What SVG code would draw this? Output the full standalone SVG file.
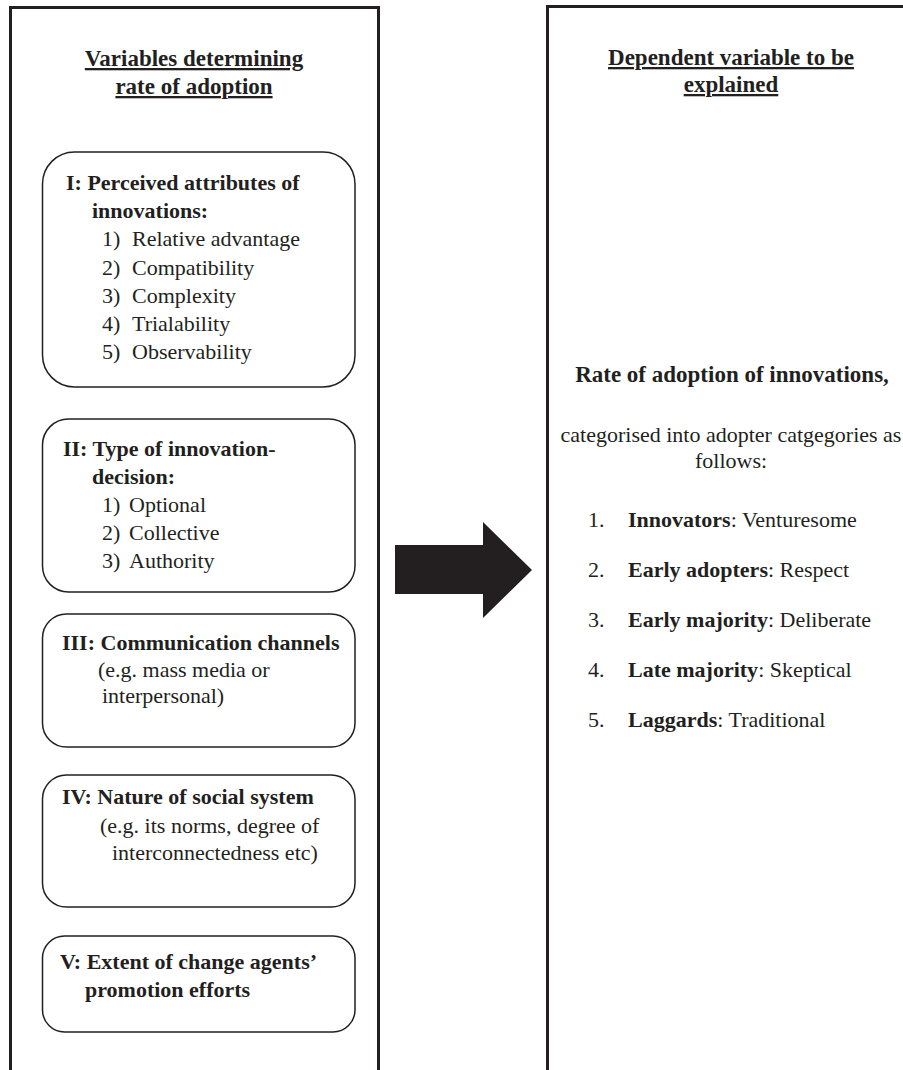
<svg xmlns="http://www.w3.org/2000/svg" width="903" height="1070" viewBox="0 0 903 1070">
<style>
  text { font-family: "Liberation Serif", "Times New Roman", serif; fill: #231f20; }
  .h { font-size: 23px; font-weight: bold; }
  .hu { font-size: 23px; font-weight: bold; text-decoration: underline; }
  .b { font-size: 22px; font-weight: bold; }
  .r { font-size: 22px; }
  .panel { fill: none; stroke: #231f20; stroke-width: 3; }
  .box { fill: #ffffff; stroke: #231f20; stroke-width: 1.5; }
</style>
<rect width="903" height="1070" fill="#ffffff"/>
<g id="panel-left">
  <path class="panel" d="M10.5,1075 V7.5 H378.5 V1075"/>
  <text class="hu" x="194" y="66" text-anchor="middle">Variables determining</text>
  <text class="hu" x="194" y="94" text-anchor="middle">rate of adoption</text>
</g>
<g id="panel-right">
  <path class="panel" d="M547.5,1075 V6.5 H910"/>
  <text class="hu" x="731" y="65" text-anchor="middle">Dependent variable to be</text>
  <text class="hu" x="731" y="92" text-anchor="middle">explained</text>
  <text class="h" x="732" y="382" text-anchor="middle">Rate of adoption of innovations,</text>
  <text class="r" x="731" y="442" text-anchor="middle">categorised into adopter catgegories as</text>
  <text class="r" x="731" y="468" text-anchor="middle">follows:</text>
  <text class="r" x="588" y="527">1.</text>
  <text class="r" x="628" y="527"><tspan font-weight="bold">Innovators</tspan>: Venturesome</text>
  <text class="r" x="588" y="577">2.</text>
  <text class="r" x="628" y="577"><tspan font-weight="bold">Early adopters</tspan>: Respect</text>
  <text class="r" x="588" y="627">3.</text>
  <text class="r" x="628" y="627"><tspan font-weight="bold">Early majority</tspan>: Deliberate</text>
  <text class="r" x="588" y="677">4.</text>
  <text class="r" x="628" y="677"><tspan font-weight="bold">Late majority</tspan>: Skeptical</text>
  <text class="r" x="588" y="727">5.</text>
  <text class="r" x="628" y="727"><tspan font-weight="bold">Laggards</tspan>: Traditional</text>
</g>
<g id="box-1">
  <rect class="box" x="42.5" y="152" width="312.5" height="235" rx="32"/>
  <text class="b" x="66" y="190">I: Perceived attributes of</text>
  <text class="b" x="92" y="218">innovations:</text>
  <text class="r" x="102" y="246">1)</text><text class="r" x="132" y="246">Relative advantage</text>
  <text class="r" x="102" y="275">2)</text><text class="r" x="132" y="275">Compatibility</text>
  <text class="r" x="102" y="303">3)</text><text class="r" x="132" y="303">Complexity</text>
  <text class="r" x="102" y="331">4)</text><text class="r" x="132" y="331">Trialability</text>
  <text class="r" x="102" y="359">5)</text><text class="r" x="132" y="359">Observability</text>
</g>
<g id="box-2">
  <rect class="box" x="42.5" y="419" width="312.5" height="173" rx="26"/>
  <text class="b" x="63" y="456">II: Type of innovation-</text>
  <text class="b" x="92" y="484">decision:</text>
  <text class="r" x="102" y="512">1)</text><text class="r" x="129" y="512">Optional</text>
  <text class="r" x="102" y="540">2)</text><text class="r" x="129" y="540">Collective</text>
  <text class="r" x="102" y="568">3)</text><text class="r" x="129" y="568">Authority</text>
</g>
<g id="box-3">
  <rect class="box" x="42.5" y="614" width="312.5" height="133" rx="24"/>
  <text class="b" x="62" y="650">III: Communication channels</text>
  <text class="r" x="98" y="677">(e.g. mass media or</text>
  <text class="r" x="102" y="703">interpersonal)</text>
</g>
<g id="box-4">
  <rect class="box" x="42.5" y="775" width="312.5" height="132" rx="24"/>
  <text class="b" x="62" y="804">IV: Nature of social system</text>
  <text class="r" x="100" y="833">(e.g. its norms, degree of</text>
  <text class="r" x="112" y="860">interconnectedness etc)</text>
</g>
<g id="box-5">
  <rect class="box" x="42.5" y="936" width="312.5" height="96" rx="22"/>
  <text class="b" x="60" y="969">V: Extent of change agents’</text>
  <text class="b" x="85" y="997">promotion efforts</text>
</g>
<g id="connectors">
  <polygon fill="#231f20" points="395,545 483,545 483,522 532,570 483,618 483,594 395,594"/>
</g>
</svg>
